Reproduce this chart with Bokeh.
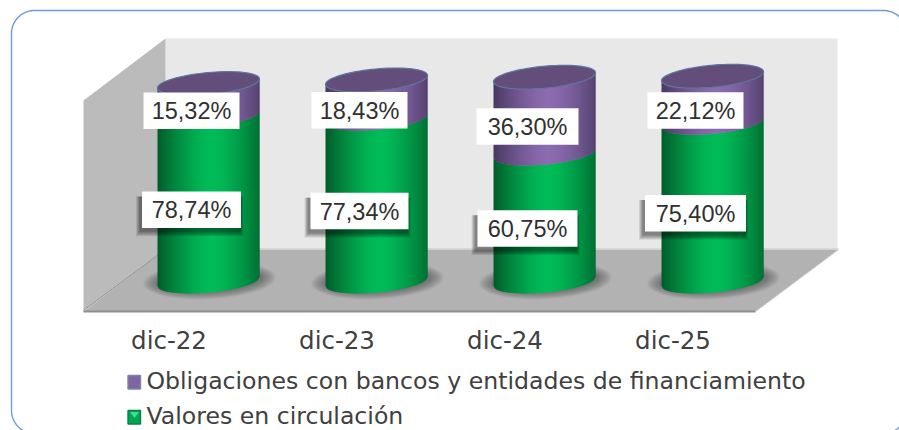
import numpy as np
from bokeh.plotting import figure
from bokeh.embed import file_html
from bokeh.resources import INLINE
from bokeh.core.properties import value

categories = ["dic-22", "dic-23", "dic-24", "dic-25"]
valores = [78.74, 77.34, 60.75, 75.40]
obligaciones = [15.32, 18.43, 36.30, 22.12]
valores_lab = ["78,74%", "77,34%", "60,75%", "75,40%"]
obligaciones_lab = ["15,32%", "18,43%", "36,30%", "22,12%"]
legend_labels = ["Obligaciones con bancos y entidades de financiamiento", "Valores en circulación"]

W, H = 899, 430
OX, OY = 0, 0
CAT0, CATSTEP = 208.0, 168.0
BASE, PXPER = 281.0, 2.105
xs, xe = (OX - CAT0) / CATSTEP, (OX + W - CAT0) / CATSTEP
ye, ys = (BASE - OY) / PXPER, (BASE - OY - H) / PXPER

def X(px):
    return xs + (np.asarray(px, float) - OX) / W * (xe - xs)

def Y(py):
    return ye + (np.asarray(py, float) - OY) / H * (ys - ye)

p = figure(width=W, height=H, x_range=(xs, xe), y_range=(ys, ye), output_backend="svg",
           toolbar_location=None, x_axis_location=None, y_axis_location=None,
           min_border=0, outline_line_color=None, background_fill_color="white",
           border_fill_color="white")
p.grid.visible = False

def poly(pts, color, line=None, lw=1, alpha=1.0):
    a = np.array(pts, float)
    p.patch(X(a[:, 0]), Y(a[:, 1]), fill_color=color, line_color=line, line_width=lw, fill_alpha=alpha)

# walls and floor of the 3-D box
poly([(165, 38), (837, 38), (837, 249), (165, 249)], "#E8E8E8")
poly([(83, 100), (165, 38), (165, 249), (83, 310)], "#BBBBBB")
poly([(165, 249), (838, 249), (755, 311), (83, 311)], "#B2B2B2")
p.line(X([165, 838]), Y([248.5, 248.5]), line_color="#D2D2D2", line_width=1.5)
p.line(X([83, 165]), Y([310, 249]), line_color="#8E8E8E", line_width=1)
p.line(X([83, 755]), Y([311, 311]), line_color="#8E8E8E", line_width=2)
p.line(X([755, 838]), Y([311, 249]), line_color="#C8C8C8", line_width=1)

# rounded frame
r, l, t, rt, b = 23, 11, 10, 906, 433
th = np.linspace(0, np.pi / 2, 24)
fx = np.r_[l + r - r * np.cos(th), rt - r + r * np.sin(th), rt - r + r * np.cos(th), l + r - r * np.sin(th), l]
fy = np.r_[t + r - r * np.sin(th), t + r - r * np.cos(th), b - r + r * np.sin(th), b - r + r * np.cos(th), t + r]
p.line(X(fx), Y(fy), line_color="#6F9BD6", line_width=1.4)

RX, RY, SH = 51.0, 11.0, 4.5
U = np.arange(-51, 52) / 51.0   # one strip per pixel column

def edge(u, c, sign=1):
    return c - SH * u + sign * RY * np.sqrt(np.clip(1 - u ** 2, 0, 1))

def shade(u, dark, mid):
    k = np.clip(1 - (abs(u - 0.08) / 1.08) ** 1.5, 0, 1)
    c = np.array(dark) + (np.array(mid) - np.array(dark)) * k
    return "#%02x%02x%02x" % tuple(int(round(v)) for v in c)

def body(cx, c_low, c_high, dark, mid):
    xx, yy, col = [], [], []
    for u0, u1 in zip(U[:-1], U[1:]):
        um = (u0 + u1) / 2
        # strips slightly overlap the next one to the right, so no seams show
        u2 = min(u1 + 1 / 51.0, 1.0)
        xx.append(X([cx + RX * u0, cx + RX * u2, cx + RX * u2, cx + RX * u0]))
        yy.append(Y([edge(u0, c_low), edge(u2, c_low), edge(u2, c_high), edge(u0, c_high)]))
        col.append(shade(um, dark, mid))
    p.patches(xx, yy, fill_color=col, line_color=None)

GREEN_D, GREEN_M = (0, 92, 42), (0, 188, 88)
PURP_D, PURP_M = (72, 56, 96), (140, 108, 176)

tt = np.linspace(0, 2 * np.pi, 80)
for i, cat in enumerate(categories):
    cx = CAT0 + i * CATSTEP
    # soft floor shadow, drawn as stacked translucent ellipses
    for k in range(8):
        grow = 15 - k * 2.0
        sx = cx + 1 + (RX + grow) * np.cos(tt)
        sy = 280 - 3 * np.cos(tt) + (RY + grow * 0.5) * np.sin(tt)
        p.patch(X(sx), Y(sy), fill_color="#404040", fill_alpha=0.09, line_color=None)
    v = valores[i]
    o = obligaciones[i]
    c1 = BASE - v * PXPER
    c2 = BASE - (v + o) * PXPER
    body(cx, BASE, c1, GREEN_D, GREEN_M)
    body(cx, c1, c2, PURP_D, PURP_M)
    # top cap
    ux = np.cos(tt)
    capx = cx + RX * ux
    capy = c2 - SH * ux + RY * np.sin(tt)
    p.patch(X(capx), Y(capy), fill_color="#624D7B", line_color="#5C769E", line_width=1.2)

def label(cx, cy, w, h, txt, shadow=False):
    x0, x1, y0, y1 = cx - w / 2, cx + w / 2, cy - h / 2, cy + h / 2
    if shadow:
        for k in range(6):
            g = 7 - k
            p.quad(left=X(x0 - 1 - g * 0.7), right=X(x1 + g * 0.6 - 2), top=Y(y0 + 5), bottom=Y(y1 + 2 + g * 0.9),
                   fill_color="#000000", fill_alpha=0.09, line_color=None)
    p.quad(left=X(x0), right=X(x1), top=Y(y0), bottom=Y(y1), fill_color="white", line_color=None)
    p.text(X([cx]), Y([cy + 0.5]), text=[txt], text_font=value("Liberation Sans"), text_font_size="23.5px",
           text_color="#303030", text_align="center", text_baseline="middle")

# labels sit a fixed offset from the middle of each segment
LDX, LDY = -17, 11
top_w = [96, 96, 102, 96]
low_w = [99, 98, 100, 101]
for i in range(4):
    cx = CAT0 + i * CATSTEP
    v, o = valores[i], obligaciones[i]
    c1 = BASE - v * PXPER
    c2 = BASE - (v + o) * PXPER
    label(cx + LDX, (BASE + c1) / 2 + LDY, low_w[i], 36.5, valores_lab[i], shadow=True)
    label(cx + LDX, (c1 + c2) / 2 + LDY, top_w[i], 36.5, obligaciones_lab[i])

# category labels
for i, cat in enumerate(categories):
    p.text([i - 0.235], Y([340]), text=[cat], text_font=value("DejaVu Sans"), text_font_size="24.5px",
           text_color="#404040", text_align="center", text_baseline="middle")

# legend
p.quad(left=X(127.5), right=X(140), top=Y(375), bottom=Y(388.5), fill_color="#8064A2", line_color="#7688A8", line_width=1.4)
p.quad(left=X(127.5), right=X(140), top=Y(410), bottom=Y(423.5), fill_color="#00A651", line_color="#0B7F47", line_width=1.4)
poly([(129.5, 411.5), (138.5, 411.5), (134, 417.5)], "#3CE08C")
for txt, yy in zip(legend_labels, (380, 415)):
    p.text(X([146]), Y([yy]), text=[txt], text_font=value("DejaVu Sans"), text_font_size="23.6px",
           text_color="#404040", text_align="left", text_baseline="middle")

open("out.html", "w").write(file_html(p, INLINE))
